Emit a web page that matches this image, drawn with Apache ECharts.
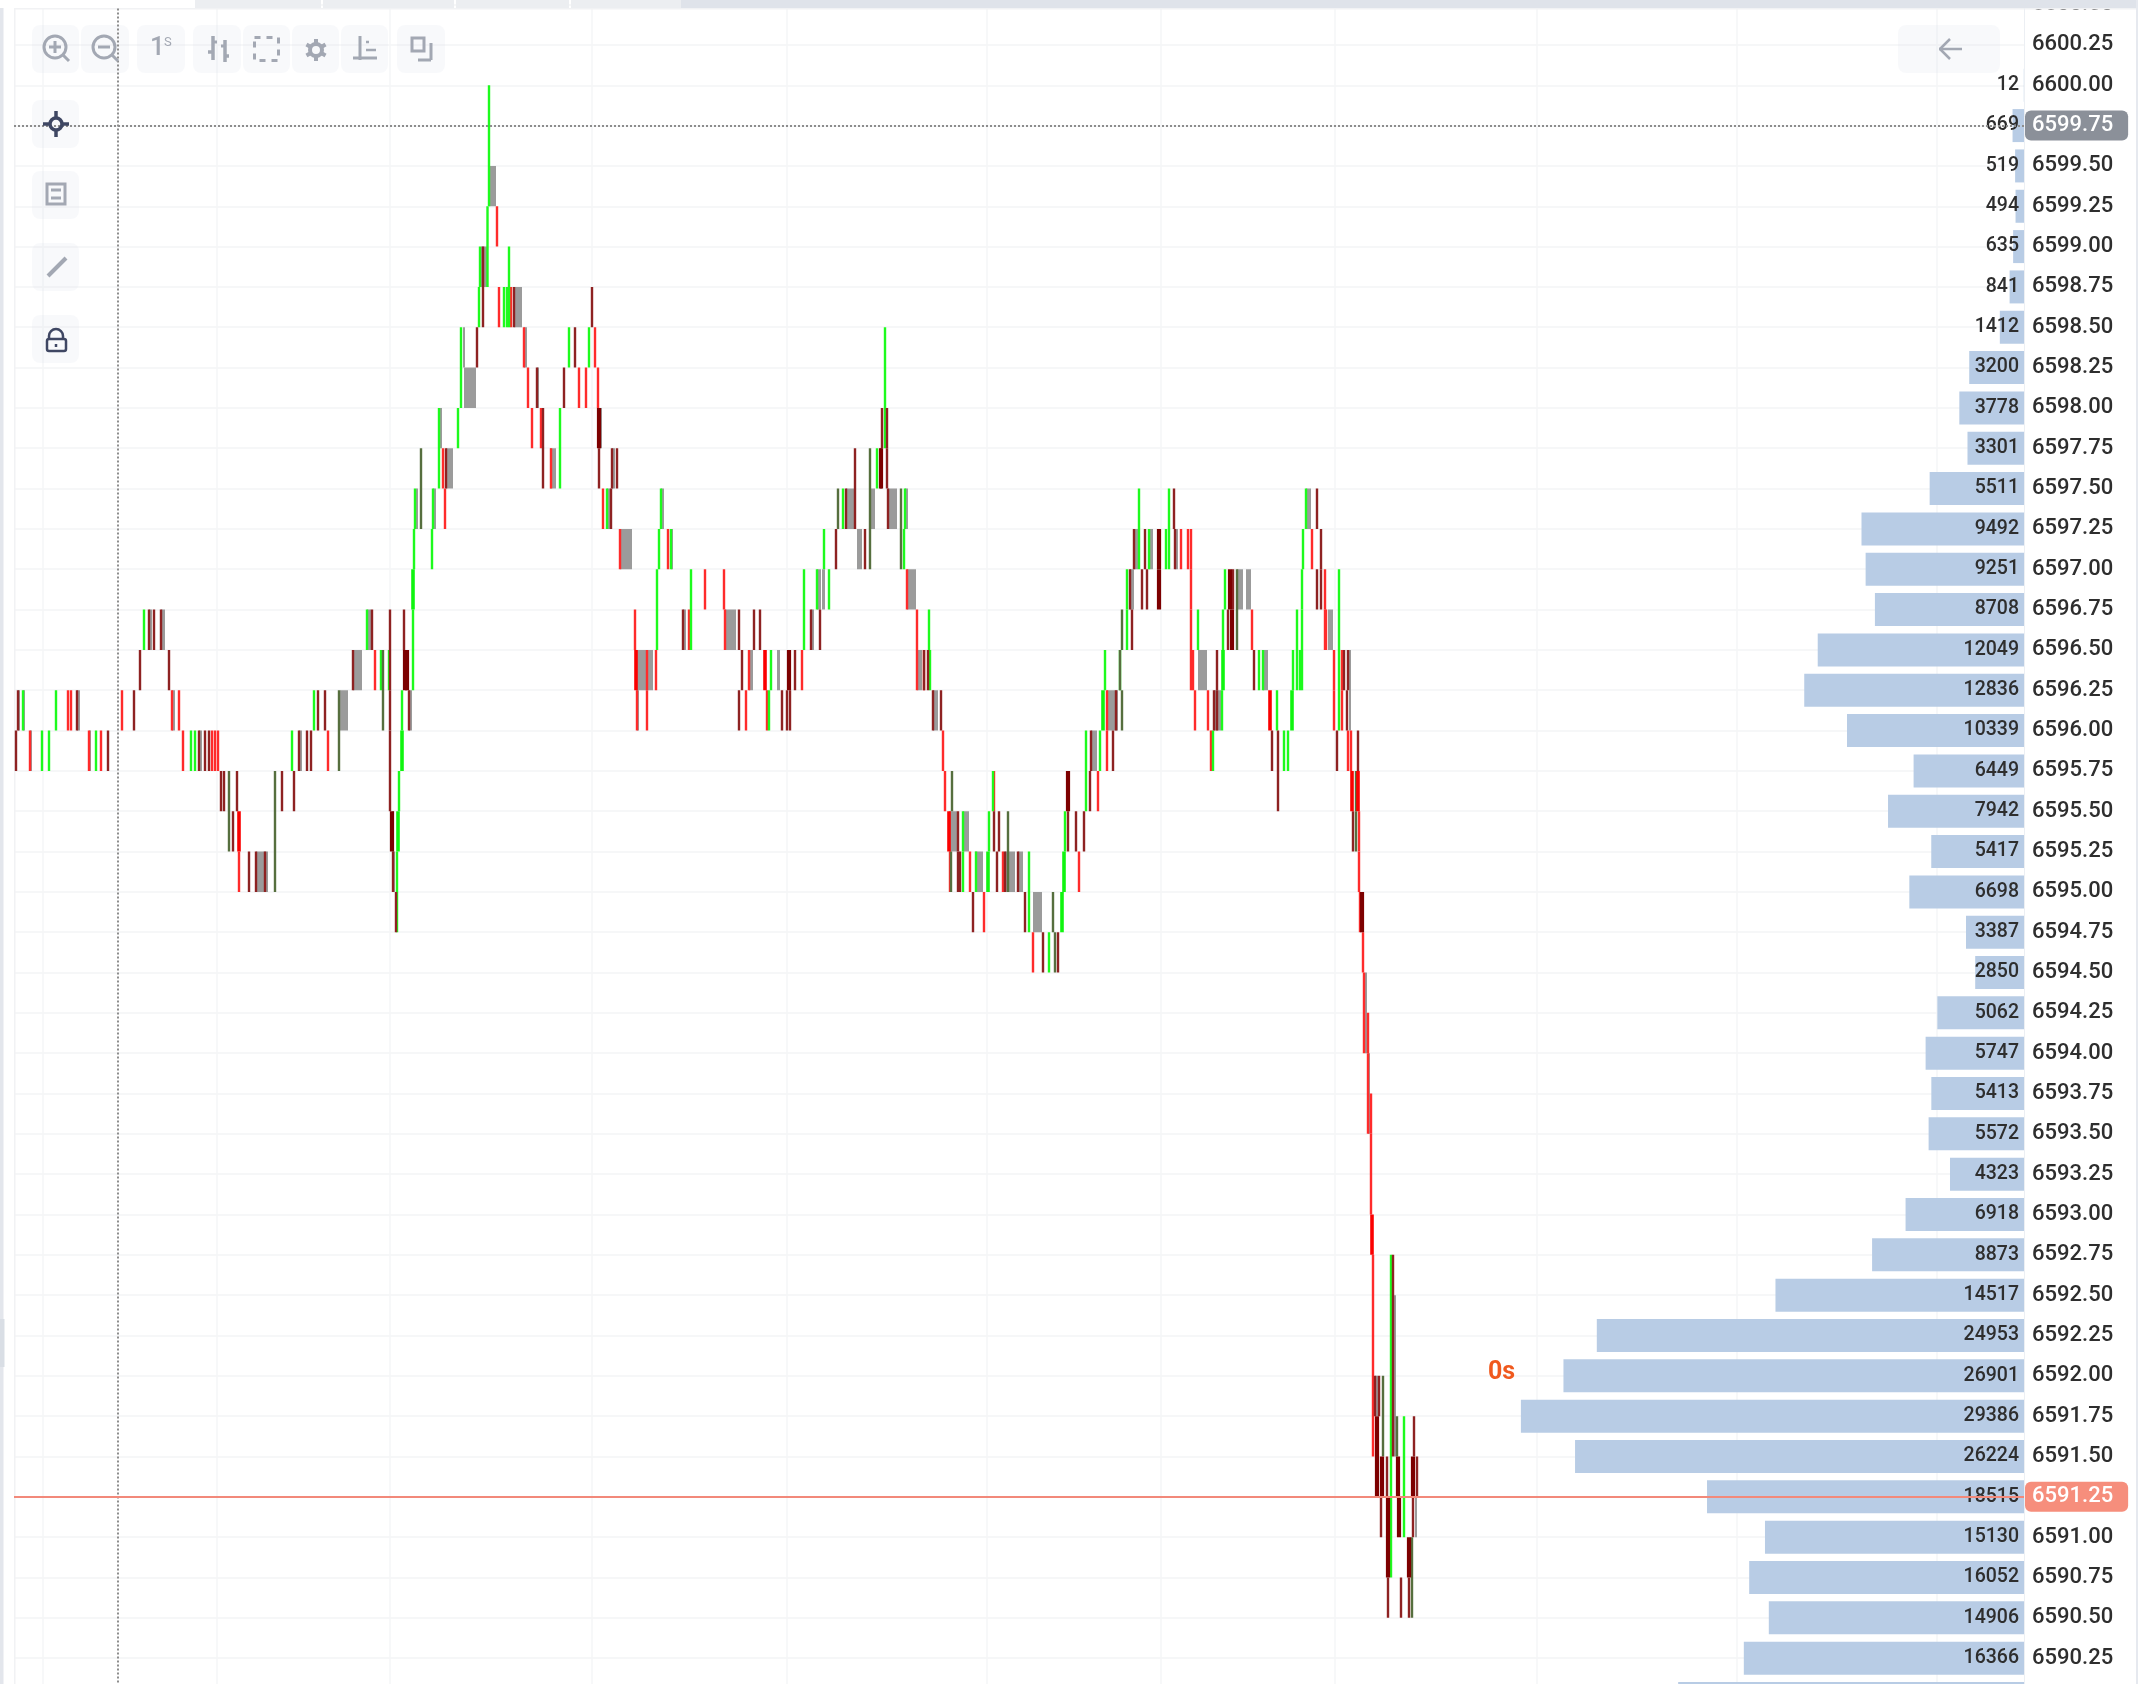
<!DOCTYPE html>
<html><head><meta charset="utf-8">
<style>html,body{margin:0;padding:0;background:#fff;overflow:hidden}#c{width:2144px;height:1684px}</style>
<script src="https://cdn.jsdelivr.net/npm/echarts@6/dist/echarts.min.js"></script>
</head><body><div id="c"></div>
<script>
// each row: [high price, low price, [bar positions on the time axis]]
const redBars = [
 [6599.25,6599,[497]],[6598.75,6598.5,[499,511]],[6598.5,6598.25,[524,595]],[6598.25,6598,[528,579,586,598]],
 [6598,6597.75,[532,541]],[6597.75,6597.5,[443,551]],[6597.5,6597.25,[445,603]],[6597.25,6597,[620,668,1181,1188,1191,1312]],
 [6597,6596.75,[705,724,907,1191,1325]],[6596.75,6596.5,[635,689,725,917,1191,1252,1325,1326]],
 [6596.5,6596.25,[375,647,656,749,802,917,924,1191,1193,1334,1342]],
 [6596.25,6596,[68,71,122,172,179,637,647,746,767,1107,1195,1208,1334,1342]],
 [6596,6595.75,[30,89,101,183,212,215,218,328,943,1107,1211,1348,1351]],
 [6595.75,6595.5,[945,994,1098]],[6595.25,6595,[239,950,970,1003,1079,1359]],[6595.5,6595.25,[1359]],
 [6595,6594.75,[984,1360]],[6594.75,6594.5,[1033,1363]],[6594.5,6594,[1364]],[6594.25,6594,[1368]],
 [6594,6593.5,[1368]],[6593.75,6593.5,[1371]],[6593.5,6593,[1371]],[6592.75,6591.5,[1373]]
];
const redThick = [
 [6596.5,6596.25,[636,765]],[6596.25,6596,[1270]],[6595.5,6595.25,[239,949]],
 [6595.75,6595.5,[1352,1358]],[6593,6592.75,[1372]]
];
const greenBars = [
 [6600,6599.25,[489]],[6599.25,6598.75,[487.5]],[6599,6598.75,[480]],[6599,6598.5,[509]],[6598.75,6598.5,[479,504,507]],
 [6598.5,6598,[461]],[6598.5,6598.25,[569,589]],[6598,6597.5,[439]],[6598,6597.75,[458]],[6598,6597.5,[560]],
 [6597.5,6597.25,[415,433,607,661,843,905,1169,1306]],[6597.25,6597,[414,432,659,671,824,904,1139,1149,1166,1169,1303]],
 [6597.5,6597.25,[1139]],[6597,6596.5,[657,691,804]],[6597,6596.75,[817,829,1127,1225,1302]],[6596.75,6596.5,[144,367,413,929,1127,1198,1223,1297,1302]],
 [6596.5,6596.25,[381,389,413,771,930,1105,1120,1259,1263,1293,1300,1297,1302]],
 [6596.25,6596,[23,56,314,402,769,1222,1277]],[6596,6595.75,[42,49,96,191,195,292,1086,1100,1213,1284,1288]],
 [6595.75,6595.5,[399,993,1086]],[6595.5,6595.25,[963,989,1065]],[6595.25,6595,[397,963,976,1029]],[6595,6594.75,[397,1029]],
 [6594.75,6594.5,[1049]],[6597,6596,[1339]],[6598.5,6597.75,[885]],[6597.75,6597.5,[877]],
 [6592.75,6590.75,[1391]],[6591.75,6591,[1404]]
];
const greenThick = [
 [6597,6596.75,[413]],[6596,6595.75,[402]],[6595.5,6595.25,[398]],[6596.25,6596,[1103,1292]],[6595.25,6595,[988,1064]],
 [6595,6594.75,[1062]],[6596.5,6596.25,[1223]]
];
const maroonBars = [
 [6599,6598.5,[483]],[6598.75,6598.5,[514,592]],[6598.5,6598.25,[477,575]],[6598.25,6598,[537,564]],[6598,6597.5,[543]],
 [6597.75,6597.5,[446,599,612,617,881,887]],[6597.5,6597.25,[611,846,888,1174,1317]],[6597.75,6597.25,[855]],[6598,6597.75,[882,887]],
 [6597.25,6597,[836,865,1134,1145,1175,1321]],[6597,6596.75,[1130,1142,1147,1233,1317,1321]],
 [6596.75,6596.5,[149,154,161,372,390,404,683,739,754,760,811,820,1132,1228]],
 [6596.5,6596.25,[140,169,353,390,742,795,924,928,1217,1254,1344,1348]],
 [6596.25,6596,[18,77,134,318,325,390,409,739,782,787,790,933,941,1116,1214,1217,1347]],
 [6596,6595.75,[16,108,199,205,209,299,307,311,390,1091,1113,1272,1278,1337,1358]],
 [6595.75,6595.5,[221,224,237,282,294,390,1090,1278]],[6595.5,6595.25,[233,958,994,999,1068,1076,1084,1353]],
 [6595.25,6595,[249,256,265,393,958,960,997,1005,1018]],[6595,6594.75,[396,973,1025]],[6594.75,6594.5,[1043,1058]],
 [6592,6591.75,[1375,1379]],[6592.75,6591.5,[1393]],[6591.5,6591.25,[1387,1417]],[6591.75,6591.5,[1414]],
 [6591.25,6591,[1381,1413]],[6590.75,6590.5,[1388,1401,1409]]
];
const maroonThick = [
 [6598,6597.75,[599]],[6596.5,6596.25,[405,407,789]],[6595.5,6595.25,[392]],[6595.75,6595.5,[1068]],
 [6597.25,6597,[1159]],[6597,6596.75,[1159,1230]],[6596.75,6596.5,[1232]],[6597.75,6597.5,[881]],
 [6591.75,6591.25,[1377]],[6591.5,6591.25,[1382,1398,1413]],[6591.25,6590.75,[1388]],[6591.25,6591,[1399]],[6591,6590.75,[1409]],[6595,6594.75,[1362]]
];
const oliveBars = [
 [6597.75,6597.25,[421]],[6596.25,6595.75,[339]],[6596.5,6596,[383]],[6595.75,6595.25,[229]],[6595.75,6595,[275]],
 [6597.5,6597.25,[838,901]],[6597.75,6597,[870]],[6597.25,6597,[901]],[6595.75,6595.5,[952,1356]],[6595.5,6595.25,[1356]],
 [6595.5,6595,[1008]],[6595.25,6595,[951]],[6594.75,6594.5,[1055]],[6596.75,6596.5,[1122]],[6596.25,6596,[1122]],[6596.5,6596.25,[1120]],
 [6597,6596.5,[1237]],[6592,6591.5,[1383]],[6591.75,6591.5,[1397]],[6591,6590.5,[1412]],[6595,6594.75,[1053]]
];
// each row: [high price, low price, first position, last position]
const greyBars = [
 [6599.5,6599.25,489,496],[6599,6598.75,481,487],[6598.75,6598.5,514,522],[6598.5,6598.25,463,465],[6598.5,6598.25,524,527],
 [6598.25,6598,464,476],[6598.25,6598,537,539],[6598,6597.75,439,442],[6598,6597.75,599,602],[6597.75,6597.5,446,453],[6597.75,6597.5,550,556],[6597.75,6597.5,612,615],
 [6597.5,6597.25,416,418],[6597.5,6597.25,433,436],[6597.5,6597.25,607,611],[6597.5,6597.25,661,664],[6597.5,6597.25,846,854],[6597.5,6597.25,870,875],[6597.5,6597.25,888,897],[6597.5,6597.25,905,908],[6597.5,6597.25,1306,1311],
 [6597.25,6597,620,632],[6597.25,6597,671,673],[6597.25,6597,857,862],[6597.25,6597,1134,1138],[6597.25,6597,1149,1153],[6597.25,6597,1175,1178],
 [6597,6596.75,817,821],[6597,6596.75,822,825],[6597,6596.75,907,916],[6597,6596.75,1130,1134],[6597,6596.75,1237,1243],[6597,6596.75,1246,1251],
 [6596.75,6596.5,149,152],[6596.75,6596.5,161,165],[6596.75,6596.5,367,371],[6596.75,6596.5,683,686],[6596.75,6596.5,725,736],[6596.75,6596.5,811,814],[6596.75,6596.5,1328,1333],
 [6596.5,6596.25,353,362],[6596.5,6596.25,636,653],[6596.5,6596.25,749,753],[6596.5,6596.25,777,780],[6596.5,6596.25,917,922],[6596.5,6596.25,1198,1207],[6596.5,6596.25,1263,1268],[6596.5,6596,1349,1351],
 [6596.25,6596,18,20],[6596.25,6596,23,25],[6596.25,6596,77,80],[6596.25,6596,172,175],[6596.25,6596,340,348],[6596.25,6596,409,412],[6596.25,6596,637,639],[6596.25,6596,933,938],[6596.25,6596,1107,1118],[6596.25,6596,1214,1221],
 [6596,6595.75,30,32],[6596,6595.75,89,91],[6596,6595.75,199,202],[6596,6595.75,299,302],[6596,6595.75,1091,1097],
 [6595.5,6595.25,392,394],[6595.5,6595.25,949,957],[6595.5,6595.25,963,969],
 [6595.25,6595,256,268],[6595.25,6595,393,395],[6595.25,6595,975,983],[6595.25,6595,1005,1015],[6595.25,6595,1018,1023],
 [6595,6594.75,1033,1042],[6594.5,6594,1365,1367],[6594,6593.5,1368,1370],[6592.5,6591.5,1394,1396],[6592,6591.75,1375,1378],[6591.25,6591,1415,1417]
];
const timeGrid = [43,217,390,592,787,987,1161,1335,1537,1737,1937];
const priceRows = ['6600.50','6600.25','6600.00','6599.75','6599.50','6599.25','6599.00','6598.75','6598.50','6598.25','6598.00','6597.75','6597.50','6597.25','6597.00','6596.75','6596.50','6596.25','6596.00','6595.75','6595.50','6595.25','6595.00','6594.75','6594.50','6594.25','6594.00','6593.75','6593.50','6593.25','6593.00','6592.75','6592.50','6592.25','6592.00','6591.75','6591.50','6591.25','6591.00','6590.75','6590.50','6590.25','6590.00'];
const volumes = [null,null,12,669,519,494,635,841,1412,3200,3778,3301,5511,9492,9251,8708,12049,12836,10339,6449,7942,5417,6698,3387,2850,5062,5747,5413,5572,4323,6918,8873,14517,24953,26901,29386,26224,18515,15130,16052,14906,16366,20200];
const cursorPrice = 6599.75, lastPrice = 6591.25, cursorTime = 118;

const flat = rows => rows.flatMap(r => r[2].map(x => [x, r[0], r[1]]));
function barSeries(name, rows, color, w) {
  return { name, type:'custom', xAxisIndex:0, yAxisIndex:0, z:3, clip:true, silent:true, animation:false,
    data: flat(rows), encode:{x:0,y:[1,2]},
    renderItem:(p,api)=>{ const a=api.coord([api.value(0),api.value(1)]), b=api.coord([api.value(0),api.value(2)]);
      return {type:'rect',shape:{x:a[0]-w/2,y:a[1],width:w,height:b[1]-a[1]},style:{fill:color}}; } };
}
const greySeries = { name:'body', type:'custom', xAxisIndex:0, yAxisIndex:0, z:2, clip:true, silent:true, animation:false,
  data: greyBars.map(r=>[r[2],r[3],r[0],r[1]]), encode:{x:[0,1],y:[2,3]},
  renderItem:(p,api)=>{ const a=api.coord([api.value(0),api.value(2)]), b=api.coord([api.value(1),api.value(3)]);
    return {type:'rect',shape:{x:a[0],y:a[1],width:b[0]-a[0],height:b[1]-a[1]},style:{fill:'#9b9b9b'}}; } };

// toolbar drawing
const G='#a3a8b3', D='#3f4763', gfx=[];
const btn=(x,y,w,h)=>gfx.push({type:'rect',z:1,shape:{x,y,width:w,height:h,r:8},style:{fill:'rgba(225,228,235,0.22)'}});
const ln=(x1,y1,x2,y2,c=G,w=3,dash)=>gfx.push({type:'line',z:6,shape:{x1,y1,x2,y2},style:{stroke:c,lineWidth:w,lineDash:dash}});
const circ=(cx,cy,r,c=G,w=3)=>gfx.push({type:'circle',z:6,shape:{cx,cy,r},style:{fill:'none',stroke:c,lineWidth:w}});
const box=(x,y,w,h,c=G,lw=3,dash,r=0)=>gfx.push({type:'rect',z:6,shape:{x,y,width:w,height:h,r},style:{fill:'none',stroke:c,lineWidth:lw,lineDash:dash}});
const solid=(x,y,w,h,fill,z=100)=>gfx.push({type:'rect',z,shape:{x,y,width:w,height:h},style:{fill}});
[[32,47],[81,48],[137,48],[193,48],[243,47],[292,47],[341,47],[397,48]].forEach(b=>btn(b[0],25,b[1],48));
[100,171,243,315].forEach(y=>btn(32,y,47,48));
btn(1898,25,102,48);
// zoom in / out
circ(55,47,11); ln(63,55,69,61); ln(49,47,61,47); ln(55,41,55,53);
circ(104,47,11); ln(112,55,118,61); ln(98,47,110,47);
// interval
gfx.push({type:'text',z:6,style:{text:'1',x:150,y:35,font:'500 26px Roboto',fill:G}});
gfx.push({type:'text',z:6,style:{text:'S',x:164,y:36,font:'400 13px Roboto',fill:G}});
// chart type
ln(213,36,213,60,G,3.5); ln(225,40,225,62,G,3.5); ln(208,52,213,52,G,3.5); ln(213,42,217,42,G,3); ln(221,46,225,46,G,3); ln(225,56,229,56,G,3.5);
// selection
box(254.5,37.5,24,23,G,3,[6,6]);
// settings
circ(316,50,6,G,4);
for(let i=0;i<6;i++){const t=Math.PI/6+i*Math.PI/3;ln(316+7*Math.cos(t),50+7*Math.sin(t),316+11*Math.cos(t),50+11*Math.sin(t),G,4);}
// axes
ln(360,36,360,60); ln(353,58,377,58); ln(366,42,369,42,G,2.5); ln(366,50,376,50,G,2.5);
// layout
box(412,38,12,13); ln(431,43,431,60); ln(418,60,431,60);
// back arrow
ln(1939,49,1962,49,G,2.5); ln(1950,39,1940,49,G,2.5); ln(1950,59,1940,49,G,2.5);
// side tools
circ(56,124,6,D,3.5); ln(43,124,50,124,D,3.5); ln(62,124,69,124,D,3.5); ln(56,111,56,118,D,3.5); ln(56,130,56,137,D,3.5);
box(47,184,18,20,G,3); ln(51,190,61,190,G,3); ln(51,198,61,198,G,3);
ln(66,258,48,276,G,4);
box(47,339,19,12,D,2.5,null,2); gfx.push({type:'arc',z:6,shape:{cx:56,cy:336,r:7,startAngle:Math.PI,endAngle:0},style:{fill:'none',stroke:D,lineWidth:2.5}}); ln(49,336,49,339,D,2.5); ln(63,336,63,339,D,2.5); ln(56,344,56,347,D,2.5);
// page frame
solid(0,0,195,8,'#ffffff'); solid(195,0,126,8,'#eceef1'); solid(323,0,131,8,'#eceef1'); solid(456,0,113,8,'#eceef1'); solid(571,0,110,8,'#eceef1'); solid(681,0,1455,8,'#dfe3ea');
solid(0,8,3.5,1676,'#e3e6ec'); solid(0,1319,4.5,48,'#d9dee5'); solid(2136,0,2,1684,'#e6e9ef');
solid(14,8,2122,1.5,'#f1f2f4',2); solid(14,8,1.5,1676,'#f1f2f4',2); solid(2024,8,1,1676,'#eceff3',2);
gfx.push({type:'text',z:6,style:{text:'0s',x:1488,y:1360,font:'700 25px Roboto',fill:'#f0591e'}});

const pill=(price,bg)=>({yAxis:price,label:{show:true,position:'end',distance:1,formatter:price.toFixed(2),color:'#fff',fontFamily:'Roboto',fontWeight:500,fontSize:22,backgroundColor:bg,borderRadius:6,padding:[4,15,2,7],lineHeight:24}});

const option = {
  backgroundColor:'#fff', animation:false,
  grid:{left:14,width:2010,top:4.6,height:1693.9,containLabel:false,outerBoundsMode:'none'},
  xAxis:[
    {type:'value',min:14,max:2024,axisLine:{show:false},axisLabel:{show:false},axisTick:{show:false,customValues:timeGrid},splitLine:{show:true,lineStyle:{color:'#f5f6f7',width:1.5}}},
    {type:'value',show:false,inverse:true,min:0,max:117406,position:'top',splitLine:{show:false}}
  ],
  yAxis:[
    {type:'value',position:'right',min:6590,max:6600.5,interval:0.25,
     axisLine:{show:false},axisTick:{show:false},splitLine:{show:true,lineStyle:{color:'#f3f4f6',width:1.5}},
     axisLabel:{show:true,margin:8,showMinLabel:true,showMaxLabel:true,color:'#2e2e2e',fontFamily:'Roboto',fontWeight:500,fontSize:22,padding:[2,0,0,0],formatter:v=>v.toFixed(2)}},
    {type:'category',show:false,inverse:true,boundaryGap:false,data:priceRows}
  ],
  graphic:gfx,
  series:[
    {name:'volume',type:'bar',xAxisIndex:1,yAxisIndex:1,z:1,silent:true,barWidth:33,data:volumes,itemStyle:{color:'#b8cce5'},
     label:{show:true,position:'insideRight',distance:5,color:'#2e2e2e',fontFamily:'Roboto',fontWeight:500,fontSize:19.5,padding:[2,0,0,0]}},
    greySeries,
    barSeries('red',redBars,'#ff2b2b',2.4),barSeries('green',greenBars,'#1dfb1d',2.4),
    barSeries('maroon',maroonBars,'#8e2222',2.4),barSeries('olive',oliveBars,'#566f3e',2.4),
    barSeries('greenThick',greenThick,'#10f510',3.6),barSeries('redThick',redThick,'#fb0000',3.6),barSeries('maroonThick',maroonThick,'#7d0000',4.2),
    {name:'guides',type:'line',xAxisIndex:0,yAxisIndex:0,z:5,silent:true,data:[],
     markLine:{silent:true,symbol:'none',animation:false,z:5,lineStyle:{type:'dotted',color:'#8d8d8d',width:2},
       label:{show:false},
       data:[{xAxis:cursorTime},
             Object.assign(pill(cursorPrice,'#8b9099'),{lineStyle:{type:'dotted',color:'#8d8d8d',width:2}}),
             Object.assign(pill(lastPrice,'#f68e7c'),{lineStyle:{type:'solid',color:'#f2897a',width:2}})]}}
  ]
};
echarts.init(document.getElementById('c'),null,{renderer:'canvas'}).setOption(option);
</script></body></html>
